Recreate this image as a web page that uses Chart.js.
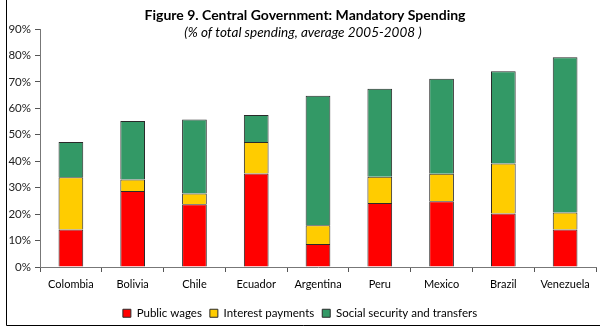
<!DOCTYPE html>
<html>
<head>
<meta charset="utf-8">
<script src="https://cdn.jsdelivr.net/npm/chart.js@4.4.1/dist/chart.umd.min.js"></script>
<style>
  html, body { margin: 0; padding: 0; background: #fff; }
  #wrap { width: 600px; height: 327px; }
</style>
</head>
<body>
<div id="wrap"><canvas id="myBarChart" width="600" height="327"></canvas></div>
<script>
// values, in % of total spending
const countries = ['Colombia', 'Bolivia', 'Chile', 'Ecuador', 'Argentina', 'Peru', 'Mexico', 'Brazil', 'Venezuela'];
const publicWages = [14.2, 28.7, 23.7, 35.4, 8.7, 24.2, 24.9, 20.2, 14.2];
const interestPayments = [19.7, 4.4, 4.1, 11.9, 7.1, 9.9, 10.4, 18.9, 6.4];
const socialSecurity = [13.4, 22.1, 28.0, 10.2, 49.0, 33.3, 35.9, 34.9, 58.7];
const yTicks = [0, 10, 20, 30, 40, 50, 60, 70, 80, 90];

const fontName = 'Lato, "Open Sans", sans-serif';

// frame + title are drawn by hand, like the old excel export
const framePlugin = {
    id: 'frame',
    afterDraw(chart) {
        const c = chart.ctx;
        c.save();
        c.strokeStyle = '#000';
        c.lineWidth = 1;
        c.beginPath();
        c.moveTo(6.5, 0);
        c.lineTo(6.5, 325.5);
        c.lineTo(600, 325.5);
        c.stroke();

        c.fillStyle = '#000';
        c.textAlign = 'center';
        c.textBaseline = 'middle';
        c.font = 'bold 14px ' + fontName;
        c.fillText('Figure 9. Central Government: Mandatory Spending', 305, 15);
        c.font = 'italic 13.5px ' + fontName;
        c.fillText('(% of total spending, average 2005-2008 )', 303, 33);
        c.restore();
    }
};

const ctx = document.getElementById('myBarChart').getContext('2d');

new Chart(ctx, {
    type: 'bar',
    data: {
        labels: countries,
        datasets: [
            { label: 'Public wages', data: publicWages, backgroundColor: '#ff0000', borderColor: '#2a2a2a', borderWidth: 1 },
            { label: 'Interest payments', data: interestPayments, backgroundColor: '#ffcc00', borderColor: '#2a2a2a', borderWidth: 1 },
            { label: 'Social security and transfers', data: socialSecurity, backgroundColor: '#339966', borderColor: '#2a2a2a', borderWidth: 1 }
        ]
    },
    options: {
        responsive: false,
        animation: false,
        layout: { padding: { left: 4, top: 29, right: 4, bottom: -2 } },
        datasets: { bar: { categoryPercentage: 1, barPercentage: 0.4 } },
        plugins: {
            title: { display: false },
            tooltip: { enabled: false },
            legend: {
                position: 'bottom',
                labels: {
                    color: '#000',
                    font: { family: fontName, size: 11.5 },
                    boxWidth: 8,
                    boxHeight: 8,
                    padding: 8
                }
            }
        },
        scales: {
            x: {
                stacked: true,
                afterFit: s => { s.height = 32.5; },
                grid: { display: true, drawOnChartArea: false, offset: true, tickLength: 5, color: '#555' },
                border: { display: true, color: '#777' },
                ticks: { color: '#000', font: { family: fontName, size: 11 }, padding: 6, maxRotation: 0 }
            },
            y: {
                stacked: true,
                min: 0,
                max: 90,
                afterFit: s => { s.width = 36; },
                afterBuildTicks: s => { s.ticks = yTicks.map(v => ({ value: v })); },
                grid: { display: true, drawOnChartArea: false, tickLength: 5, color: '#555' },
                border: { display: true, color: '#777' },
                ticks: { color: '#222', font: { family: fontName, size: 11.5 }, padding: 4, callback: v => v + '%' }
            }
        }
    },
    plugins: [framePlugin]
});
</script>
</body>
</html>
